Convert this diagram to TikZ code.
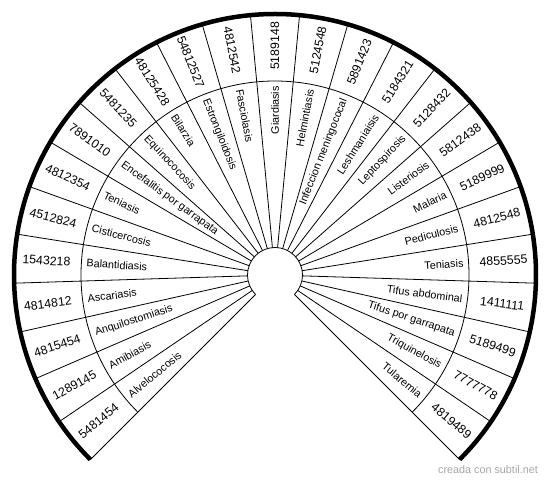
\documentclass[tikz,border=0pt]{standalone}
\usepackage{fontspec}
\setmainfont{Liberation Sans}
\begin{document}
\begin{tikzpicture}[x=1pt,y=1pt,
  thin line/.style={line width=0.8pt, black},
  rim/.style={line width=4.5pt, black},
  namelbl/.style={font=\fontsize{10.8}{12}\selectfont, inner sep=0pt},
  numlbl/.style={font=\fontsize{12.3}{14}\selectfont, inner sep=0pt},
  mark label/.style={font=\fontsize{10.8}{12}\selectfont, text=black!35, inner sep=0pt}]
\useasboundingbox (0,0) rectangle (550,482);
\coordinate (C) at (275,207);
\def\Rin{27.5}
\def\Rmid{194}
\def\Rout{261}
% spokes
\foreach \k in {0,...,25}{
  \pgfmathsetmacro\a{225-10.8*\k}
  \draw[thin line] ([shift={(\a:\Rin)}]C) -- ([shift={(\a:\Rout)}]C);
}
% arcs
\draw[thin line] ([shift={(-45:\Rin)}]C) arc[start angle=-45, end angle=225, radius=\Rin];
\draw[thin line] ([shift={(-45:\Rmid)}]C) arc[start angle=-45, end angle=225, radius=\Rmid];
\draw[rim] ([shift={(-45:\Rout)}]C) arc[start angle=-45, end angle=225, radius=\Rout];
% labels
\foreach \nm/\nb [count=\i] in {
  Alvelococosis/5481454, Amibiasis/1289145, Anquilostomiasis/4815454,
  Ascariasis/4814812, Balantidiasis/1543218, Cisticercosis/4512824,
  Teniasis/4812354, Encefalitis por garrapata/7891010, Equinococosis/5481235,
  Bilarzia/48125428, Estrongiloidosis/54812527, Fasciolasis/4812542,
  Giardiasis/5189148, Helmintiasis/5124548, Infeccion meningococal/5891423,
  Leshmaniaisis/5184321, Leptospirosis/5128432, Listeriosis/5812438,
  Malaria/5189999, Pediculosis/4812548, Teniasis/4855555,
  Tifus abdominal/1411111, Tifus por garrapata/5189499,
  Triquinelosis/7777778, Tularemia/4819489}{
  \pgfmathsetmacro\ang{225-10.8*(\i-0.5)}
  \ifdim\ang pt>90.5pt
    \pgfmathsetmacro\rot{\ang-180}\def\anc{west}
  \else
    \pgfmathsetmacro\rot{\ang}\def\anc{east}
  \fi
  \node[namelbl, rotate=\rot, anchor=\anc] (n\i) at ([shift={(\ang:189)}]C) {\nm};
  \node[numlbl, rotate=\rot] (v\i) at ([shift={(\ang:229)}]C) {\nb};
}
\node[mark label] (wm) at (488,12) {creada con subtil.net};
\end{tikzpicture}
\end{document}
